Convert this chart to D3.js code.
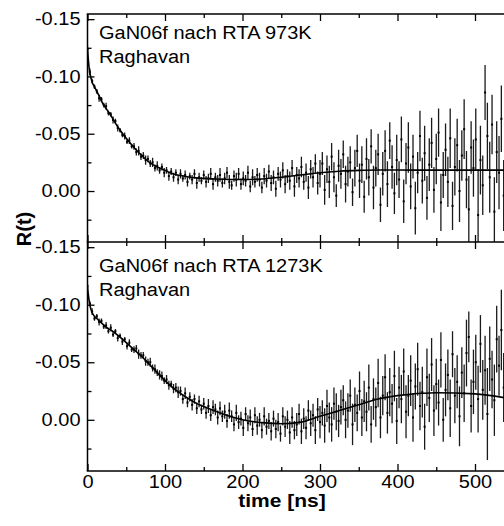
<!DOCTYPE html>
<html><head><meta charset="utf-8">
<script src="https://cdn.jsdelivr.net/npm/d3@7"></script>
<style>html,body{margin:0;padding:0;background:#fff;} svg{display:block;font-family:"Liberation Sans",Arial,sans-serif;}</style>
</head><body><svg id="c" width="504" height="526"></svg>
<script>
// sampling step of the time channels (ns)
const timeStepNs = 3;
// R(t) values in units of 1e-3, one per time channel (973K sample)
const r973 = [-124,-104,-96,-91,-87,-81,-80,-75,-74,-68,
 -67,-62,-61,-55,-53,-49,-48,-43,-44,-39,
 -39,-34,-35,-30,-31,-27,-28,-24,-25,-20,
 -22,-18,-21,-16,-18,-13,-17,-12,-16,-10,
 -15,-11,-14,-8,-13,-10,-15,-7,-12,-9,
 -14,-8,-11,-15,-6,-12,-9,-14,-7,-11,
 -16,-8,-5,-13,-10,-15,-6,-11,-9,-16,
 -4,-12,-8,-14,-10,-3,-13,-9,-17,-7,
 -12,-2,-15,-10,-18,-6,-13,-9,-20,-4,
 -14,-11,-21,-8,-16,-3,-19,-12,-24,-7,
 -15,-24,-1,-19,-8,-30,-12,4,-22,-15,
 -32,-6,-17,-25,1,-20,-35,-9,-23,5,
 -28,-12,-39,-3,-20,-32,12,-15,-35,-6,
 -44,-21,2,-27,-10,-45,9,-24,-38,-4,
 -30,15,-16,-48,-9,-33,6,-23,-42,-1,
 -28,-51,10,-14,-36,-8,-46,13,-21,-40,
 0,-31,-54,-10,16,-38,-20,-45,21,-27,
 -5,-86,-48,-12,-58,18,-34,-16,-63,4];
// error bar half-lengths (1e-3), 973K
const e973 = [3,3,2,2,2,3,2,2,3,2,2,3,2,3,2,2,3,2,3,2,
 3,3,4,3,3,4,3,3,4,3,4,3,3,4,3,4,3,4,3,4,4,3,4,4,3,4,4,5,4,3,
 4,5,4,5,5,4,5,6,4,5,5,6,4,5,6,5,5,6,5,6,5,7,5,6,6,5,7,6,6,7,6,7,6,7,
 7,8,6,8,7,9,7,8,9,7,8,10,8,9,8,10,
 12,10,13,12,14,12,13,10,14,13,12,16,13,14,12,16,14,
 15,16,14,18,16,15,19,16,18,15,19,18,20,16,19,18,22,16,20,19,18,22,20,19,23,18,22,20,24,19,23,22,20,
 22,21,25,20,23,22,26,21,25,23,27,22,26,25,29,23,25,27,40,30,26,24,29,31,26,30,27,32,29,31];
// R(t) values (1e-3), 1273K sample
const r1273 = [-116,-101,-94,-88,-90,-85,-86,-81,-82,-77,
 -80,-74,-77,-71,-73,-68,-70,-64,-67,-61,
 -61,-62,-57,-56,-56,-51,-50,-50,-45,-44,
 -41,-39,-38,-34,-35,-30,-31,-27,-28,-24,
 -25,-18,-23,-15,-20,-13,-18,-10,-16,-9,
 -14,-6,-12,-4,-11,-9,-2,-10,-3,-7,
 1,-8,-3,4,-6,2,-1,7,-5,3,
 -2,8,-4,5,0,9,-3,6,1,10,
 -1,8,2,12,-3,6,0,11,-2,9,
 4,-5,10,-1,7,-8,3,-4,9,-9,
 2,-6,5,-12,-2,4,-14,-7,1,-11,
 -17,0,-8,-21,4,-13,-6,-25,-2,-16,
 -7,-28,4,-18,-11,-32,-2,-21,-37,-6,
 -24,-14,-38,1,-28,-18,-42,-7,-21,-34,
 -2,-29,-44,-12,-24,6,-37,-19,-48,-8,
 -31,-15,-52,0,-26,-39,-10,-57,-21,-33,
 -3,-41,-23,-58,-72,-12,-33,-50,-18,-66,
 -26,-43,-5,-53,-35,-17,-70,-47,-78,-28];
// error bar half-lengths (1e-3), 1273K
const e1273 = [2,2,3,2,2,3,2,2,3,2,3,2,2,3,2,3,2,3,3,2,
 3,3,4,3,3,4,3,4,3,4,3,4,4,3,4,4,3,4,4,5,4,4,5,4,4,5,4,5,5,4,
 5,5,6,5,6,5,6,6,5,6,6,7,5,6,7,6,6,7,6,7,7,6,7,8,6,7,8,7,7,8,7,8,8,7,
 8,9,8,10,9,8,10,9,11,9,10,9,11,10,12,10,
 14,11,15,14,13,15,14,16,14,15,13,16,15,14,18,15,16,
 17,16,18,17,20,16,18,17,21,18,17,20,18,21,17,22,20,18,21,20,23,18,22,21,20,23,21,22,20,25,21,23,22,
 22,20,24,19,23,22,25,20,24,23,26,22,25,29,22,23,28,24,29,25,26,30,40,28,25,31,29,26,35,30];
// fitted curves (Raghavan model), read at these times (ns), values 1e-3
const fitTimes = [0,2,4,6,9,12,15,20,25,30,40,50,60,70,80,90,100,110,120,130,140,150,175,200,225,250,275,300,325,350,375,400,450,500,540];
const fit973 = [-124,-108,-100,-95,-91,-87,-83,-76,-71,-66,-55,-46,-38,-31,-25,-21,-18,-15,-13.5,-12.3,-11.5,-11,-10.3,-10,-10.5,-12,-14,-16,-17.3,-18,-18.3,-18.3,-18.2,-18.2,-18.2];
const fit1273 = [-115,-104,-97,-93,-90,-88,-86,-83,-80,-78,-73,-67,-61,-55,-48,-41,-34,-28,-23,-18.5,-14.5,-11.5,-5,0,2.5,3.5,2,-3,-8,-13,-18,-21,-23.5,-22.5,-19];
const panelTitles = [["GaN06f nach RTA 973K","Raghavan"],["GaN06f nach RTA 1273K","Raghavan"]];
const yTickValues = [-0.15,-0.10,-0.05,0.00];
const yMinorValues = [-0.125,-0.075,-0.025,0.025];
const xTickValues = [0,100,200,300,400,500];
const xMinorValues = [50,150,250,350,450,550];
const xLabel = "time [ns]";
const yLabel = "R(t)";

const svg = d3.select("#c");
const FONT = '"Liberation Sans",Arial,sans-serif';
const SQ = 0.88;
const left = 87.5, right = 521.5;
const x = d3.scaleLinear().domain([0,560]).range([left,right]);
const yDomain = [-0.1545, 0.0445];

const panels = [
  {top:14, bottom:242, r:r973, e:e973, fit:fit973, title:panelTitles[0], ty:[39,63], labels:false},
  {top:242, bottom:471, r:r1273, e:e1273, fit:fit1273, title:panelTitles[1], ty:[272,296], labels:true}
];

panels.forEach((p,k)=>{
  const y = d3.scaleLinear().domain(yDomain).range([p.top,p.bottom]);
  const clipId = "clip"+k;
  svg.append("clipPath").attr("id",clipId).append("rect")
    .attr("x",left).attr("y",p.top).attr("width",right-left).attr("height",p.bottom-p.top);
  const g = svg.append("g").attr("clip-path",`url(#${clipId})`);
  const pts = p.r.map((v,i)=>({t:i*timeStepNs, v:v/1000, e:p.e[i]/1000}));
  g.selectAll("line.eb").data(pts).join("line").attr("class","eb")
    .attr("x1",d=>x(d.t)).attr("x2",d=>x(d.t))
    .attr("y1",d=>y(d.v-d.e)).attr("y2",d=>y(d.v+d.e))
    .attr("stroke","#1a1a1a").attr("stroke-width",1.3);
  g.selectAll("rect.pt").data(pts).join("rect").attr("class","pt")
    .attr("x",d=>x(d.t)-1).attr("y",d=>y(d.v)-1).attr("width",2).attr("height",2)
    .attr("fill","#000");
  g.append("path").datum(fitTimes.map((t,i)=>[t,p.fit[i]/1000]))
    .attr("d", d3.line().x(d=>x(d[0])).y(d=>y(d[1])).curve(d3.curveMonotoneX))
    .attr("fill","none").attr("stroke","#000").attr("stroke-width",1.6);

  // left axis
  const ya = svg.append("g").attr("transform",`translate(${left},0)`)
    .call(d3.axisLeft(y).tickValues(yTickValues).tickFormat(d=>d.toFixed(2))
      .tickSizeInner(-7).tickSizeOuter(0).tickPadding(7));
  ya.select(".domain").remove();
  ya.selectAll("line").attr("stroke-width",1.3);
  ya.selectAll("text").attr("font-size",20).attr("font-family",FONT).attr("fill","#000")
    .attr("transform",`scale(1,${SQ})`);
  const ym = svg.append("g").attr("transform",`translate(${left},0)`)
    .call(d3.axisLeft(y).tickValues(yMinorValues).tickFormat("").tickSizeInner(-4).tickSizeOuter(0));
  ym.select(".domain").remove();
  ym.selectAll("line").attr("stroke-width",1.3);

  // top and bottom edges of the panel
  [[xTickValues,-7],[xMinorValues,-4]].forEach(([vals,sz])=>{
    const a = svg.append("g").attr("transform",`translate(0,${p.top})`)
      .call(d3.axisTop(x).tickValues(vals).tickFormat("").tickSizeInner(sz).tickSizeOuter(0));
    a.select(".domain").remove(); a.selectAll("line").attr("stroke-width",1.3);
    const b = svg.append("g").attr("transform",`translate(0,${p.bottom})`)
      .call(d3.axisBottom(x).tickValues(vals).tickFormat(p.labels && sz===-7 ? d3.format("d") : "")
        .tickSizeInner(sz).tickSizeOuter(0));
    b.select(".domain").remove(); b.selectAll("line").attr("stroke-width",1.3);
    if (p.labels && sz===-7) {
      b.selectAll("text").attr("y",0).attr("dy",null).attr("font-size",20)
        .attr("font-family",FONT).attr("fill","#000")
        .attr("transform",`translate(0,16.5) scale(1,${SQ})`);
    }
  });

  // panel titles
  p.title.forEach((s,i)=>{
    svg.append("text").attr("transform",`translate(99,${p.ty[i]}) scale(1,${SQ})`)
      .attr("font-size",20).attr("font-family",FONT).attr("fill","#000").text(s);
  });
});

// frame
const frame = svg.append("g").attr("stroke","#000").attr("stroke-width",1.5);
frame.append("line").attr("x1",left).attr("x2",left).attr("y1",14).attr("y2",471);
[14,242,471].forEach(yy=>frame.append("line").attr("x1",left-0.75).attr("x2",right).attr("y1",yy).attr("y2",yy));

// axis titles
svg.append("text").attr("transform",`translate(282,507) scale(1,${SQ})`)
  .attr("text-anchor","middle").attr("font-size",21).attr("font-weight","bold")
  .attr("font-family",FONT).text(xLabel);
svg.append("text").attr("transform","translate(31,229) rotate(-90)")
  .attr("text-anchor","middle").attr("font-size",20).attr("font-weight","bold")
  .attr("font-family",FONT).text(yLabel);
</script>
</body></html>
